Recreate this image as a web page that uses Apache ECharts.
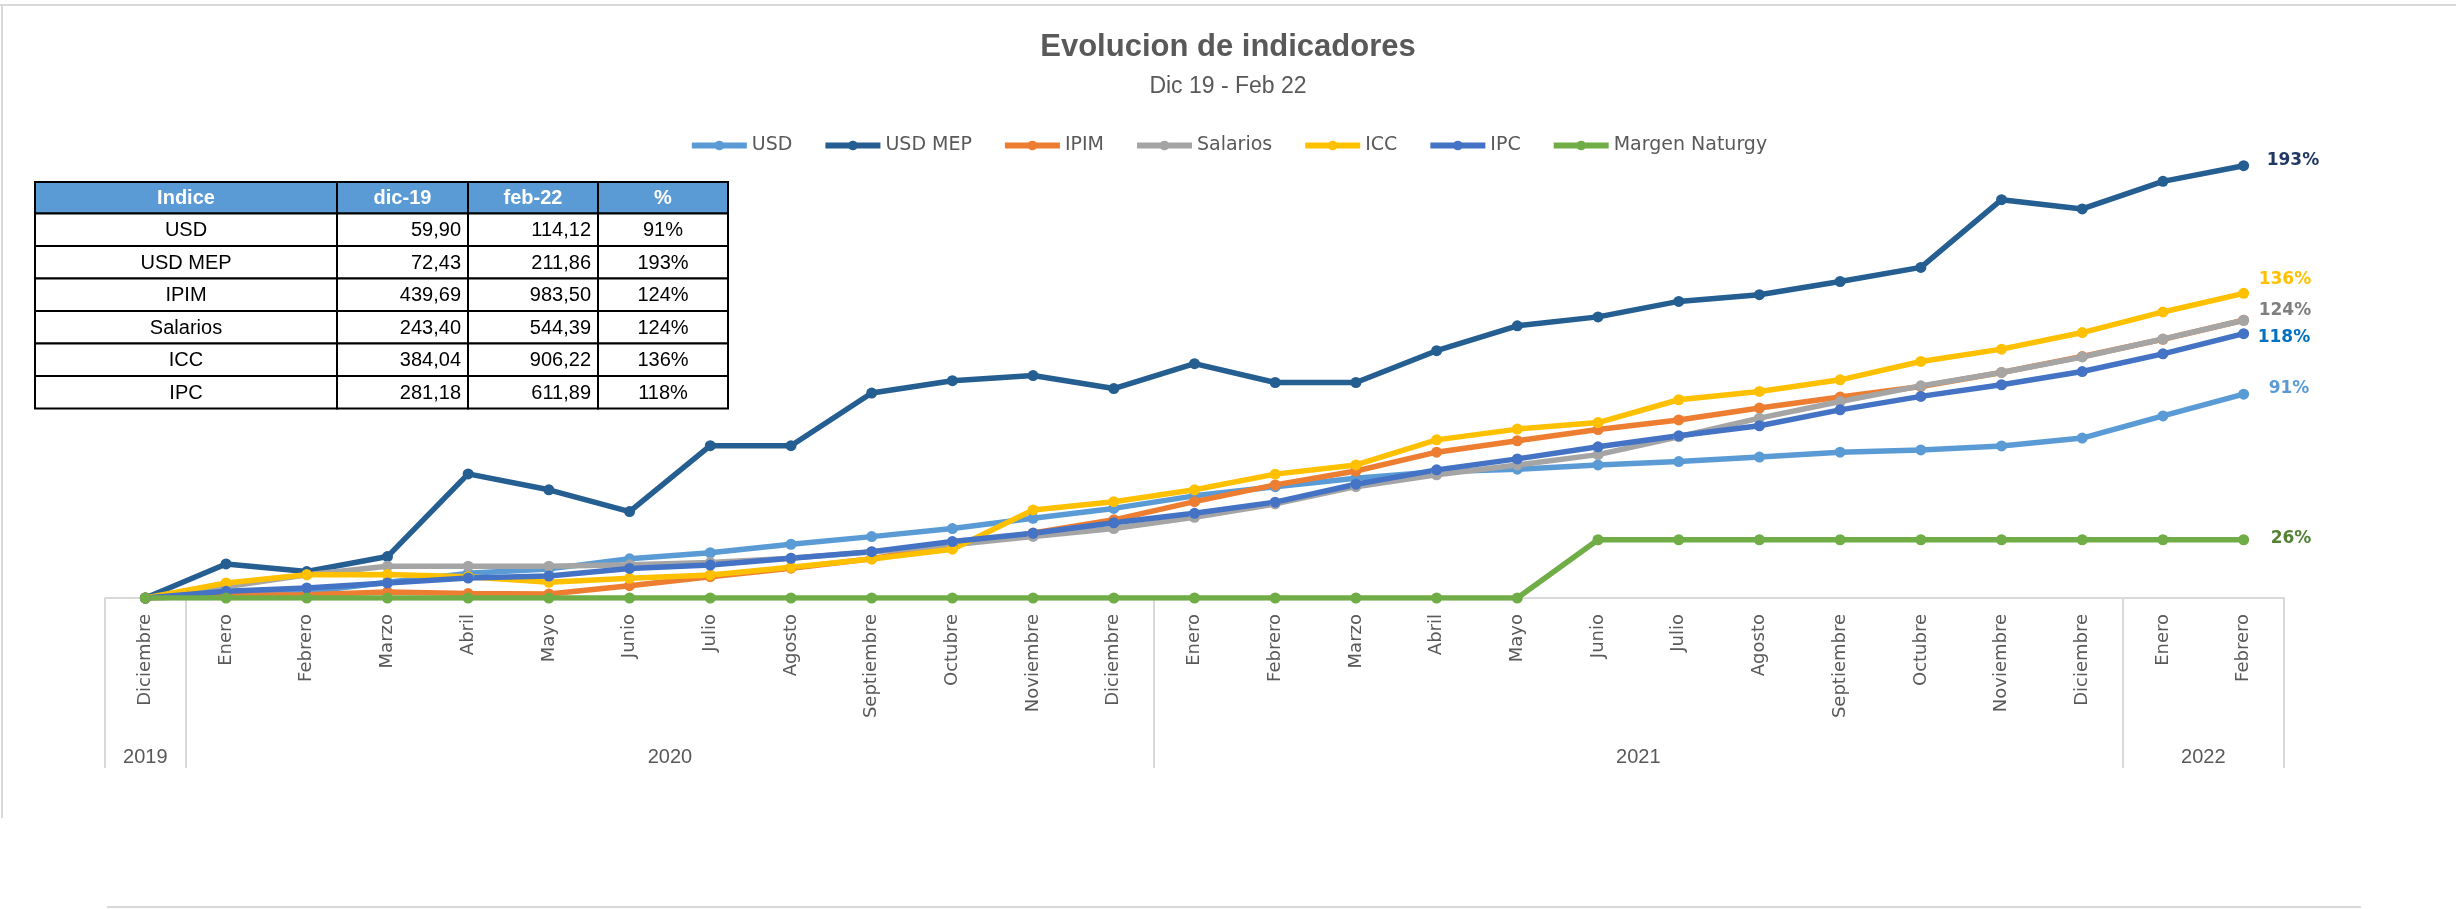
<!DOCTYPE html>
<html>
<head>
<meta charset="utf-8">
<title>Evolucion de indicadores</title>
<script src="https://cdn.jsdelivr.net/npm/echarts@6.0.0/dist/echarts.min.js"></script>
<style>
  html, body { margin: 0; padding: 0; background: #fff; }
  #main { width: 2456px; height: 909px; }
</style>
</head>
<body>
<div id="main"></div>
<script>
// meses Dic 2019 - Feb 2022
const months = ['Diciembre', 'Enero', 'Febrero', 'Marzo', 'Abril', 'Mayo', 'Junio', 'Julio', 'Agosto',
  'Septiembre', 'Octubre', 'Noviembre', 'Diciembre', 'Enero', 'Febrero', 'Marzo', 'Abril', 'Mayo',
  'Junio', 'Julio', 'Agosto', 'Septiembre', 'Octubre', 'Noviembre', 'Diciembre', 'Enero', 'Febrero'];
const years = ['2019', '2020', '2021', '2022'];
const yearFirst = [0, 1, 13, 25];
const yearLast = [0, 12, 24, 26];

// variacion acumulada (%) desde dic-19
const usd = [0, 1, 2.7, 7, 11, 13, 17.5, 20.2, 24, 27.4, 31, 35.6, 40, 45.6, 49.7, 53.5, 56.4, 57.5,
  59.4, 60.9, 62.9, 65.1, 66.1, 67.9, 71.4, 81.3, 91];
const usdMep = [0, 15.2, 11.8, 18.5, 55.4, 48.3, 38.6, 68, 68, 91.5, 97, 99.3, 93.5, 104.6, 96.2, 96.2,
  110.4, 121.5, 125.5, 132.4, 135.4, 141.3, 147.6, 177.8, 173.7, 186, 193];
const ipim = [0, 1, 1.5, 2.7, 2, 1.8, 5.5, 9.5, 13.3, 17.5, 23.5, 29, 34.9, 43, 50.5, 56.7, 65.1, 70.2,
  75.2, 79.5, 84.8, 89.7, 94.4, 100.7, 107.8, 115.5, 124];
const salarios = [0, 5, 10.4, 14.2, 14.2, 14.2, 14.8, 15.8, 17.8, 20.5, 23.8, 27.5, 31, 36, 42, 49.7,
  55, 59.4, 64, 72, 80.3, 87.7, 94.7, 100.7, 107.6, 115.6, 124];
const icc = [0, 6.7, 10.4, 10.5, 9.5, 7, 8.8, 10.3, 13.7, 17.4, 21.8, 39.3, 43, 48.3, 55.3, 59.4, 70.6,
  75.4, 78.3, 88.5, 92.2, 97.4, 105.6, 111.1, 118.5, 127.7, 136];
const ipc = [0, 3, 4.5, 6.7, 8.9, 9.8, 13.2, 14.7, 17.7, 20.7, 25.2, 28.9, 33.6, 37.8, 42.8, 50.8, 57.2,
  62.1, 67.5, 72.4, 76.9, 84, 90, 95.2, 101.1, 109, 118];
const margenNaturgy = [0, 0, 0, 0, 0, 0, 0, 0, 0, 0, 0, 0, 0, 0, 0, 0, 0, 0,
  26, 26, 26, 26, 26, 26, 26, 26, 26];

// tabla
const tableHeader = ['Indice', 'dic-19', 'feb-22', '%'];
const tableNames = ['USD', 'USD MEP', 'IPIM', 'Salarios', 'ICC', 'IPC'];
const tableDic19 = ['59,90', '72,43', '439,69', '243,40', '384,04', '281,18'];
const tableFeb22 = ['114,12', '211,86', '983,50', '544,39', '906,22', '611,89'];
const tablePct = ['91%', '193%', '124%', '124%', '136%', '118%'];

const chart = echarts.init(document.getElementById('main'));

function withEndLabel(values, color, offset) {
  const last = values.length - 1;
  return values.map((v, i) => {
    if (i !== last || !color) return v;
    return {
      value: v,
      label: {
        show: true, position: 'right', distance: 5, offset: offset,
        formatter: '{c}%', color: color, fontFamily: 'DejaVu Sans', fontWeight: 'bold', fontSize: 17
      }
    };
  });
}

function lineSeries(name, color, data) {
  return {
    name: name,
    type: 'line',
    data: data,
    symbol: 'circle',
    symbolSize: 11,
    color: color,
    lineStyle: { width: 5.5, color: color },
    itemStyle: { color: color },
    animation: false
  };
}

const option = {
  backgroundColor: '#fff',
  title: [
    {
      text: 'Evolucion de indicadores', left: 'center', top: 27,
      textStyle: { fontFamily: 'Liberation Sans', fontSize: 31, fontWeight: 'bold', color: '#595959' }
    },
    {
      text: 'Dic 19 - Feb 22', left: 'center', top: 70,
      textStyle: { fontFamily: 'Liberation Sans', fontSize: 23, fontWeight: 'normal', color: '#595959' }
    }
  ],
  legend: {
    top: 131,
    left: 'center',
    itemWidth: 55,
    itemHeight: 12,
    itemGap: 30,
    lineStyle: { width: 6 },
    textStyle: { fontFamily: 'DejaVu Sans', fontSize: 19, color: '#595959' }
  },
  grid: { left: 105, right: 172, top: 150, bottom: 311 },
  xAxis: {
    type: 'category',
    data: months,
    boundaryGap: true,
    axisLine: { show: true, lineStyle: { color: '#d9d9d9', width: 2 } },
    axisTick: {
      show: true,
      length: 170,
      interval: (i) => yearFirst.includes(i),
      lineStyle: { color: '#d9d9d9', width: 2 }
    },
    axisLabel: {
      interval: 0, rotate: 90, margin: 16,
      fontFamily: 'DejaVu Sans', fontSize: 18, color: '#595959'
    }
  },
  yAxis: {
    type: 'value', min: 0, max: 200, show: false,
    splitLine: { show: false }
  },
  series: [
    lineSeries('USD', '#5B9BD5', withEndLabel(usd, '#5B9BD5', [14.5, -6])),
    lineSeries('USD MEP', '#255E91', withEndLabel(usdMep, '#1F3864', [12.5, -5])),
    lineSeries('IPIM', '#ED7D31', ipim),
    lineSeries('Salarios', '#A5A5A5', withEndLabel(salarios, '#7F7F7F', [4.5, -10])),
    lineSeries('ICC', '#FFC000', withEndLabel(icc, '#FFC000', [4.5, -14])),
    lineSeries('IPC', '#4472C4', withEndLabel(ipc, '#0070C0', [3.5, 4])),
    lineSeries('Margen Naturgy', '#70AD47', withEndLabel(margenNaturgy, '#548235', [16.5, -1]))
  ]
};

chart.setOption(option);

// tabla resumen
const colX = [35, 337, 468, 598, 728];
const tableTop = 182;
const headH = 31.5;
const rowH = 32.5;
const tableFont = '20px "Liberation Sans"';
const graphics = [];

function cell(x0, x1, y0, h, fill, text, align, color, bold) {
  graphics.push({
    type: 'rect', silent: true,
    shape: { x: x0, y: y0, width: x1 - x0, height: h },
    style: { fill: fill, stroke: '#000', lineWidth: 2 }
  });
  const tx = align === 'right' ? x1 - 7 : (x0 + x1) / 2;
  graphics.push({
    type: 'text', silent: true,
    style: {
      text: text, x: tx, y: y0 + h / 2 + 1, align: align, verticalAlign: 'middle',
      font: (bold ? 'bold ' : '') + tableFont, fill: color
    }
  });
}

tableHeader.forEach((t, c) => cell(colX[c], colX[c + 1], tableTop, headH, '#5B9BD5', t, 'center', '#fff', true));
tableNames.forEach((name, r) => {
  const y0 = tableTop + headH + r * rowH;
  cell(colX[0], colX[1], y0, rowH, '#fff', name, 'center', '#000', false);
  cell(colX[1], colX[2], y0, rowH, '#fff', tableDic19[r], 'right', '#000', false);
  cell(colX[2], colX[3], y0, rowH, '#fff', tableFeb22[r], 'right', '#000', false);
  cell(colX[3], colX[4], y0, rowH, '#fff', tablePct[r], 'center', '#000', false);
});

// etiquetas de anio centradas en cada grupo
years.forEach((y, k) => {
  const xa = chart.convertToPixel({ xAxisIndex: 0 }, yearFirst[k]);
  const xb = chart.convertToPixel({ xAxisIndex: 0 }, yearLast[k]);
  graphics.push({
    type: 'text', silent: true,
    style: {
      text: y, x: (xa + xb) / 2, y: 757, align: 'center', verticalAlign: 'middle',
      font: '20px "Liberation Sans"', fill: '#595959'
    }
  });
});

// marco
const frame = [[0, 5, 2456, 5], [2, 5, 2, 818], [107, 907, 2361, 907]];
frame.forEach(f => graphics.push({
  type: 'line', silent: true,
  shape: { x1: f[0], y1: f[1], x2: f[2], y2: f[3] },
  style: { stroke: '#d9d9d9', lineWidth: 2 }
}));

chart.setOption({ graphic: graphics });
</script>
</body>
</html>
